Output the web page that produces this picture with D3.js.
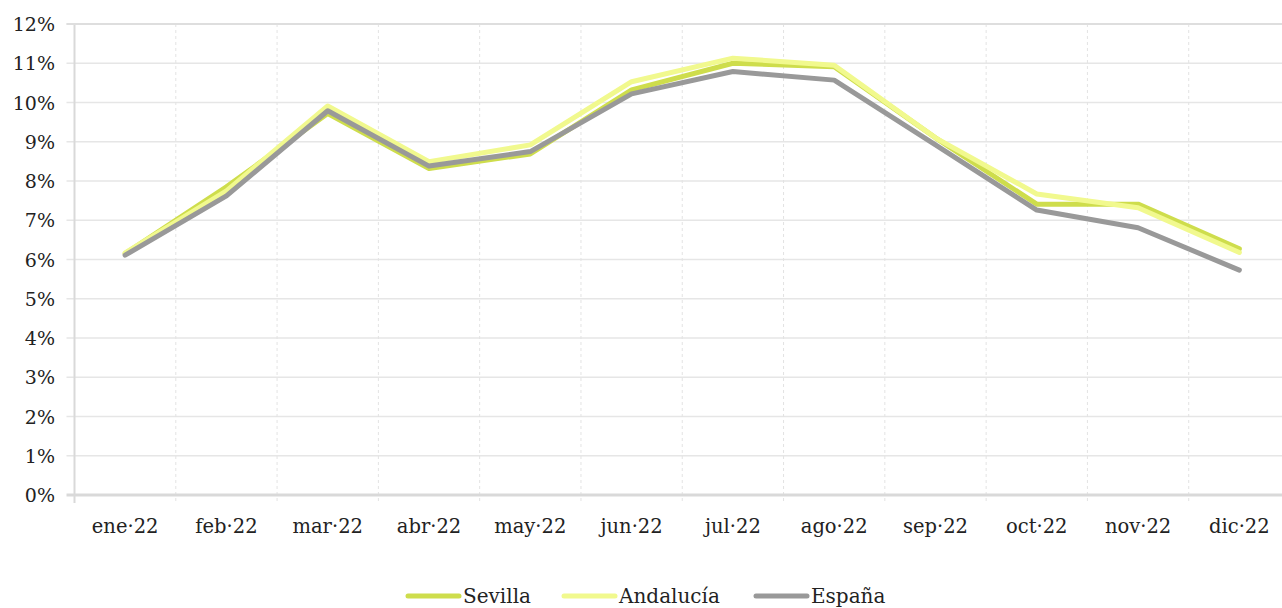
<!DOCTYPE html>
<meta charset="utf-8">
<style>
  body { margin: 0; background: #fff; }
  text { font-family: "DejaVu Serif", serif; fill: #222; }
  .hgrid line { stroke: #e6e6e6; stroke-width: 1.5; }
  .vgrid line { stroke: #e3e3e3; stroke-width: 1; stroke-dasharray: 3,3; }
  .serie { fill: none; stroke-width: 5; stroke-linejoin: round; stroke-linecap: round; }
</style>
<body>
<div id="chart"></div>
<script src="https://d3js.org/d3.v7.min.js"></script>
<script>
// datos (%)
var meses = ["ene·22", "feb·22", "mar·22", "abr·22", "may·22", "jun·22",
             "jul·22", "ago·22", "sep·22", "oct·22", "nov·22", "dic·22"];
var sevilla   = [6.15, 7.85, 9.72, 8.32, 8.69, 10.32, 11.0, 10.91, 9.1, 7.41, 7.41, 6.27];
var andalucia = [6.17, 7.75, 9.91, 8.49, 8.92, 10.53, 11.13, 10.95, 9.1, 7.67, 7.32, 6.18];
var espana    = [6.11, 7.62, 9.79, 8.38, 8.75, 10.22, 10.79, 10.57, 8.92, 7.26, 6.81, 5.73];
var yTicks = [0, 1, 2, 3, 4, 5, 6, 7, 8, 9, 10, 11, 12];

var series = [
  {name: "Sevilla",   values: sevilla,   color: "#cedd4c"},
  {name: "Andalucía", values: andalucia, color: "#f1f98e"},
  {name: "España",    values: espana,    color: "#999999"}
];

var width = 1282, height = 608;
var mLeft = 74.5, mRight = 1290, mTop = 24, mBottom = 495;

var svg = d3.select("#chart").append("svg")
    .attr("width", width)
    .attr("height", height);

var x = d3.scaleBand().domain(meses).range([mLeft, mRight]);
var y = d3.scaleLinear().domain([0, 12]).range([mBottom, mTop]);

// horizontal grid
svg.append("g")
    .attr("class", "hgrid")
  .selectAll("line")
    .data(yTicks.filter(function(d) { return d > 0; }))
  .enter().append("line")
    .attr("x1", mLeft - 8).attr("x2", mRight)
    .attr("y1", function(d) { return y(d); })
    .attr("y2", function(d) { return y(d); });

// vertical grid (band boundaries)
var bounds = meses.map(function(m) { return x(m); }).slice(1);
svg.append("g")
    .attr("class", "vgrid")
  .selectAll("line")
    .data(bounds)
  .enter().append("line")
    .attr("x1", function(d) { return d; })
    .attr("x2", function(d) { return d; })
    .attr("y1", mTop).attr("y2", mBottom + 8);

// axis lines
svg.append("line")
    .attr("x1", mLeft).attr("x2", mLeft)
    .attr("y1", mTop).attr("y2", mBottom + 8)
    .attr("stroke", "#d9d9d9").attr("stroke-width", 2);
svg.append("line")
    .attr("x1", mLeft - 8).attr("x2", mRight)
    .attr("y1", mBottom).attr("y2", mBottom)
    .attr("stroke", "#d9d9d9").attr("stroke-width", 3);
svg.append("line")
    .attr("x1", mLeft - 8).attr("x2", mRight)
    .attr("y1", mTop).attr("y2", mTop)
    .attr("stroke", "#dedede").attr("stroke-width", 2);

// y labels
svg.append("g")
  .selectAll("text")
    .data(yTicks)
  .enter().append("text")
    .attr("x", 55)
    .attr("y", function(d) { return y(d) + 7; })
    .attr("text-anchor", "end")
    .style("font-size", "19px")
    .text(function(d) { return d + "%"; });

// x labels
svg.append("g")
  .selectAll("text")
    .data(meses)
  .enter().append("text")
    .attr("x", function(d) { return x(d) + x.bandwidth() / 2; })
    .attr("y", 533)
    .attr("text-anchor", "middle")
    .style("font-size", "19.5px")
    .text(function(d) { return d; });

// lines
var line = d3.line()
    .x(function(d, i) { return x(meses[i]) + x.bandwidth() / 2; })
    .y(function(d) { return y(d); });

svg.append("g")
  .selectAll("path")
    .data(series)
  .enter().append("path")
    .attr("class", "serie")
    .attr("stroke", function(d) { return d.color; })
    .attr("d", function(d) { return line(d.values); });

// legend
var legendX = [408, 564, 756];
var lg = svg.append("g")
  .selectAll("g")
    .data(series)
  .enter().append("g")
    .attr("transform", function(d, i) { return "translate(" + legendX[i] + ",596)"; });
lg.append("line")
    .attr("x1", 0).attr("x2", 51)
    .attr("stroke", function(d) { return d.color; })
    .attr("stroke-width", 5)
    .attr("stroke-linecap", "round");
lg.append("text")
    .attr("x", 55)
    .attr("y", 7)
    .style("font-size", "20px")
    .text(function(d) { return d.name; });
</script>
</body>
